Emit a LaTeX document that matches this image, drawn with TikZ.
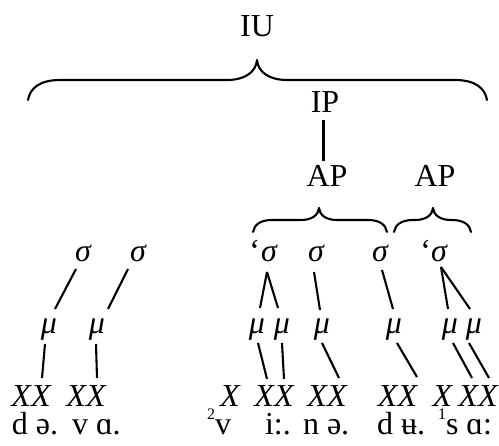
\documentclass[tikz,border=0pt]{standalone}
\usepackage{fontspec}
\setmainfont{Liberation Serif}

% curly brace: left x, right x, tip x, y of the ends, half height
\newcommand{\curlybrace}[5]{%
  \draw[curly] (#1,#4)
    .. controls (#1+0.1*#5,#4-0.6*#5) and (#1+0.6*#5,#4-#5) .. (#1+1.6*#5,#4-#5)
    -- (#3-1.5*#5,#4-#5)
    .. controls (#3-0.6*#5,#4-#5) and (#3-0.05*#5,#4-1.4*#5) .. (#3,#4-2*#5)
    .. controls (#3+0.05*#5,#4-1.4*#5) and (#3+0.6*#5,#4-#5) .. (#3+1.5*#5,#4-#5)
    -- (#2-1.6*#5,#4-#5)
    .. controls (#2-0.6*#5,#4-#5) and (#2-0.1*#5,#4-0.6*#5) .. (#2,#4);}

% raised tone digit
\newcommand{\tonemark}[1]{\raisebox{15pt}{\fontsize{16}{16}\selectfont #1}}

\begin{document}
\begin{tikzpicture}[x=1pt,y=-1pt,
  lbl/.style={inner sep=0pt, outer sep=0pt, anchor=base, font=\fontsize{32}{38}\selectfont},
  unit/.style={lbl, font=\fontsize{32}{38}\selectfont\itshape},
  seg/.style={lbl, anchor=base west},
  link/.style={line width=2.1pt},
  curly/.style={line width=2.1pt, line join=round, line cap=round}]

\useasboundingbox (0,0) rectangle (499,446);

% prosodic categories
\node[lbl] (iu)  at (257,37)  {IU};
\node[lbl] (ip)  at (325,113) {IP};
\node[lbl] (ap1) at (327,187) {AP};
\node[lbl] (ap2) at (435,187) {AP};

\curlybrace{28}{487}{257}{100}{20}
\curlybrace{253}{387}{319}{232}{12}
\curlybrace{394}{471}{433}{232}{12}

\draw[link] ([shift={(-1.5,7)}]ip.south) -- ([shift={(-3.5,-5)}]ap1.north);

% syllables
\node[unit] (s1) at (83,262)  {σ};
\node[unit] (s2) at (138,262) {σ};
\node[unit] (s3) at (269,262) {σ};
\node[unit] (s4) at (316,262) {σ};
\node[unit] (s5) at (380,262) {σ};
\node[unit] (s6) at (439,262) {σ};
\node[lbl, anchor=base east] (q1) at ([xshift=-1pt]s3.base west) {‘};
\node[lbl, anchor=base east] (q2) at ([xshift=0pt]s6.base west) {‘};

% morae
\node[unit] (m1) at (49,334)  {μ};
\node[unit] (m2) at (97,334)  {μ};
\node[unit] (m3) at (257,334) {μ};
\node[unit] (m4) at (282,334) {μ};
\node[unit] (m5) at (322,334) {μ};
\node[unit] (m6) at (394,334) {μ};
\node[unit] (m7) at (450,334) {μ};
\node[unit] (m8) at (474,334) {μ};

% timing slots
\node[unit] (g1) at (31,407)    {XX};
\node[unit] (g2) at (86,407)    {XX};
\node[unit] (g3) at (230,407)   {X};
\node[unit] (g4) at (274,407)   {XX};
\node[unit] (g5) at (327,407)   {XX};
\node[unit] (g6) at (397.5,407) {XX};
\node[unit] (g7) at (442.5,407) {X};
\node[unit] (g8) at (478,407)   {XX};

% segments
\node[seg] (t1) at (12,435)  {d ə.};
\node[seg] (t2) at (72,435)  {v ɑ.};
\node[seg] (t3) at (207,435) {\tonemark{2}v};
\node[seg] (t4) at (265,435) {i:.};
\node[seg] (t5) at (303,435) {n ə.};
\node[seg] (t6) at (377,435) {d ʉ.};
\node[seg] (t7) at (438,435) {\tonemark{1}s ɑ:};

% syllable to mora
\draw[link] ([shift={(-7,7)}]s1.base)  -- ([shift={(6,-25)}]m1.base);
\draw[link] ([shift={(-10,7)}]s2.base) -- ([shift={(11,-25)}]m2.base);
\draw[link] ([shift={(-2,10)}]s3.base) -- ([shift={(3,-26)}]m3.base);
\draw[link] ([shift={(-2,10)}]s3.base) -- ([shift={(-4,-26)}]m4.base);
\draw[link] ([shift={(-2,10)}]s4.base) -- ([shift={(-2,-24)}]m5.base);
\draw[link] ([shift={(2,8)}]s5.base)   -- ([shift={(-1,-25)}]m6.base);
\draw[link] ([shift={(2,5)}]s6.base)   -- ([shift={(-2,-25)}]m7.base);
\draw[link] ([shift={(2,5)}]s6.base)   -- ([shift={(-4,-25)}]m8.base);

% mora to timing slot
\draw[link] ([shift={(-4,10)}]m1.base) -- ([shift={(11,-29)}]g1.base);
\draw[link] ([shift={(-1,10)}]m2.base) -- ([shift={(11,-29)}]g2.base);
\draw[link] ([shift={(1,9)}]m3.base)   -- ([shift={(-7,-28)}]g4.base);
\draw[link] ([shift={(0,9)}]m4.base)   -- ([shift={(10,-28)}]g4.base);
\draw[link] ([shift={(0,9)}]m5.base)   -- ([shift={(12,-29)}]g5.base);
\draw[link] ([shift={(3,9)}]m6.base)   -- ([shift={(19.5,-30)}]g6.base);
\draw[link] ([shift={(3,9)}]m7.base)   -- ([shift={(-6,-29)}]g8.base);
\draw[link] ([shift={(-5,9)}]m8.base)  -- ([shift={(11,-29)}]g8.base);
\end{tikzpicture}
\end{document}
